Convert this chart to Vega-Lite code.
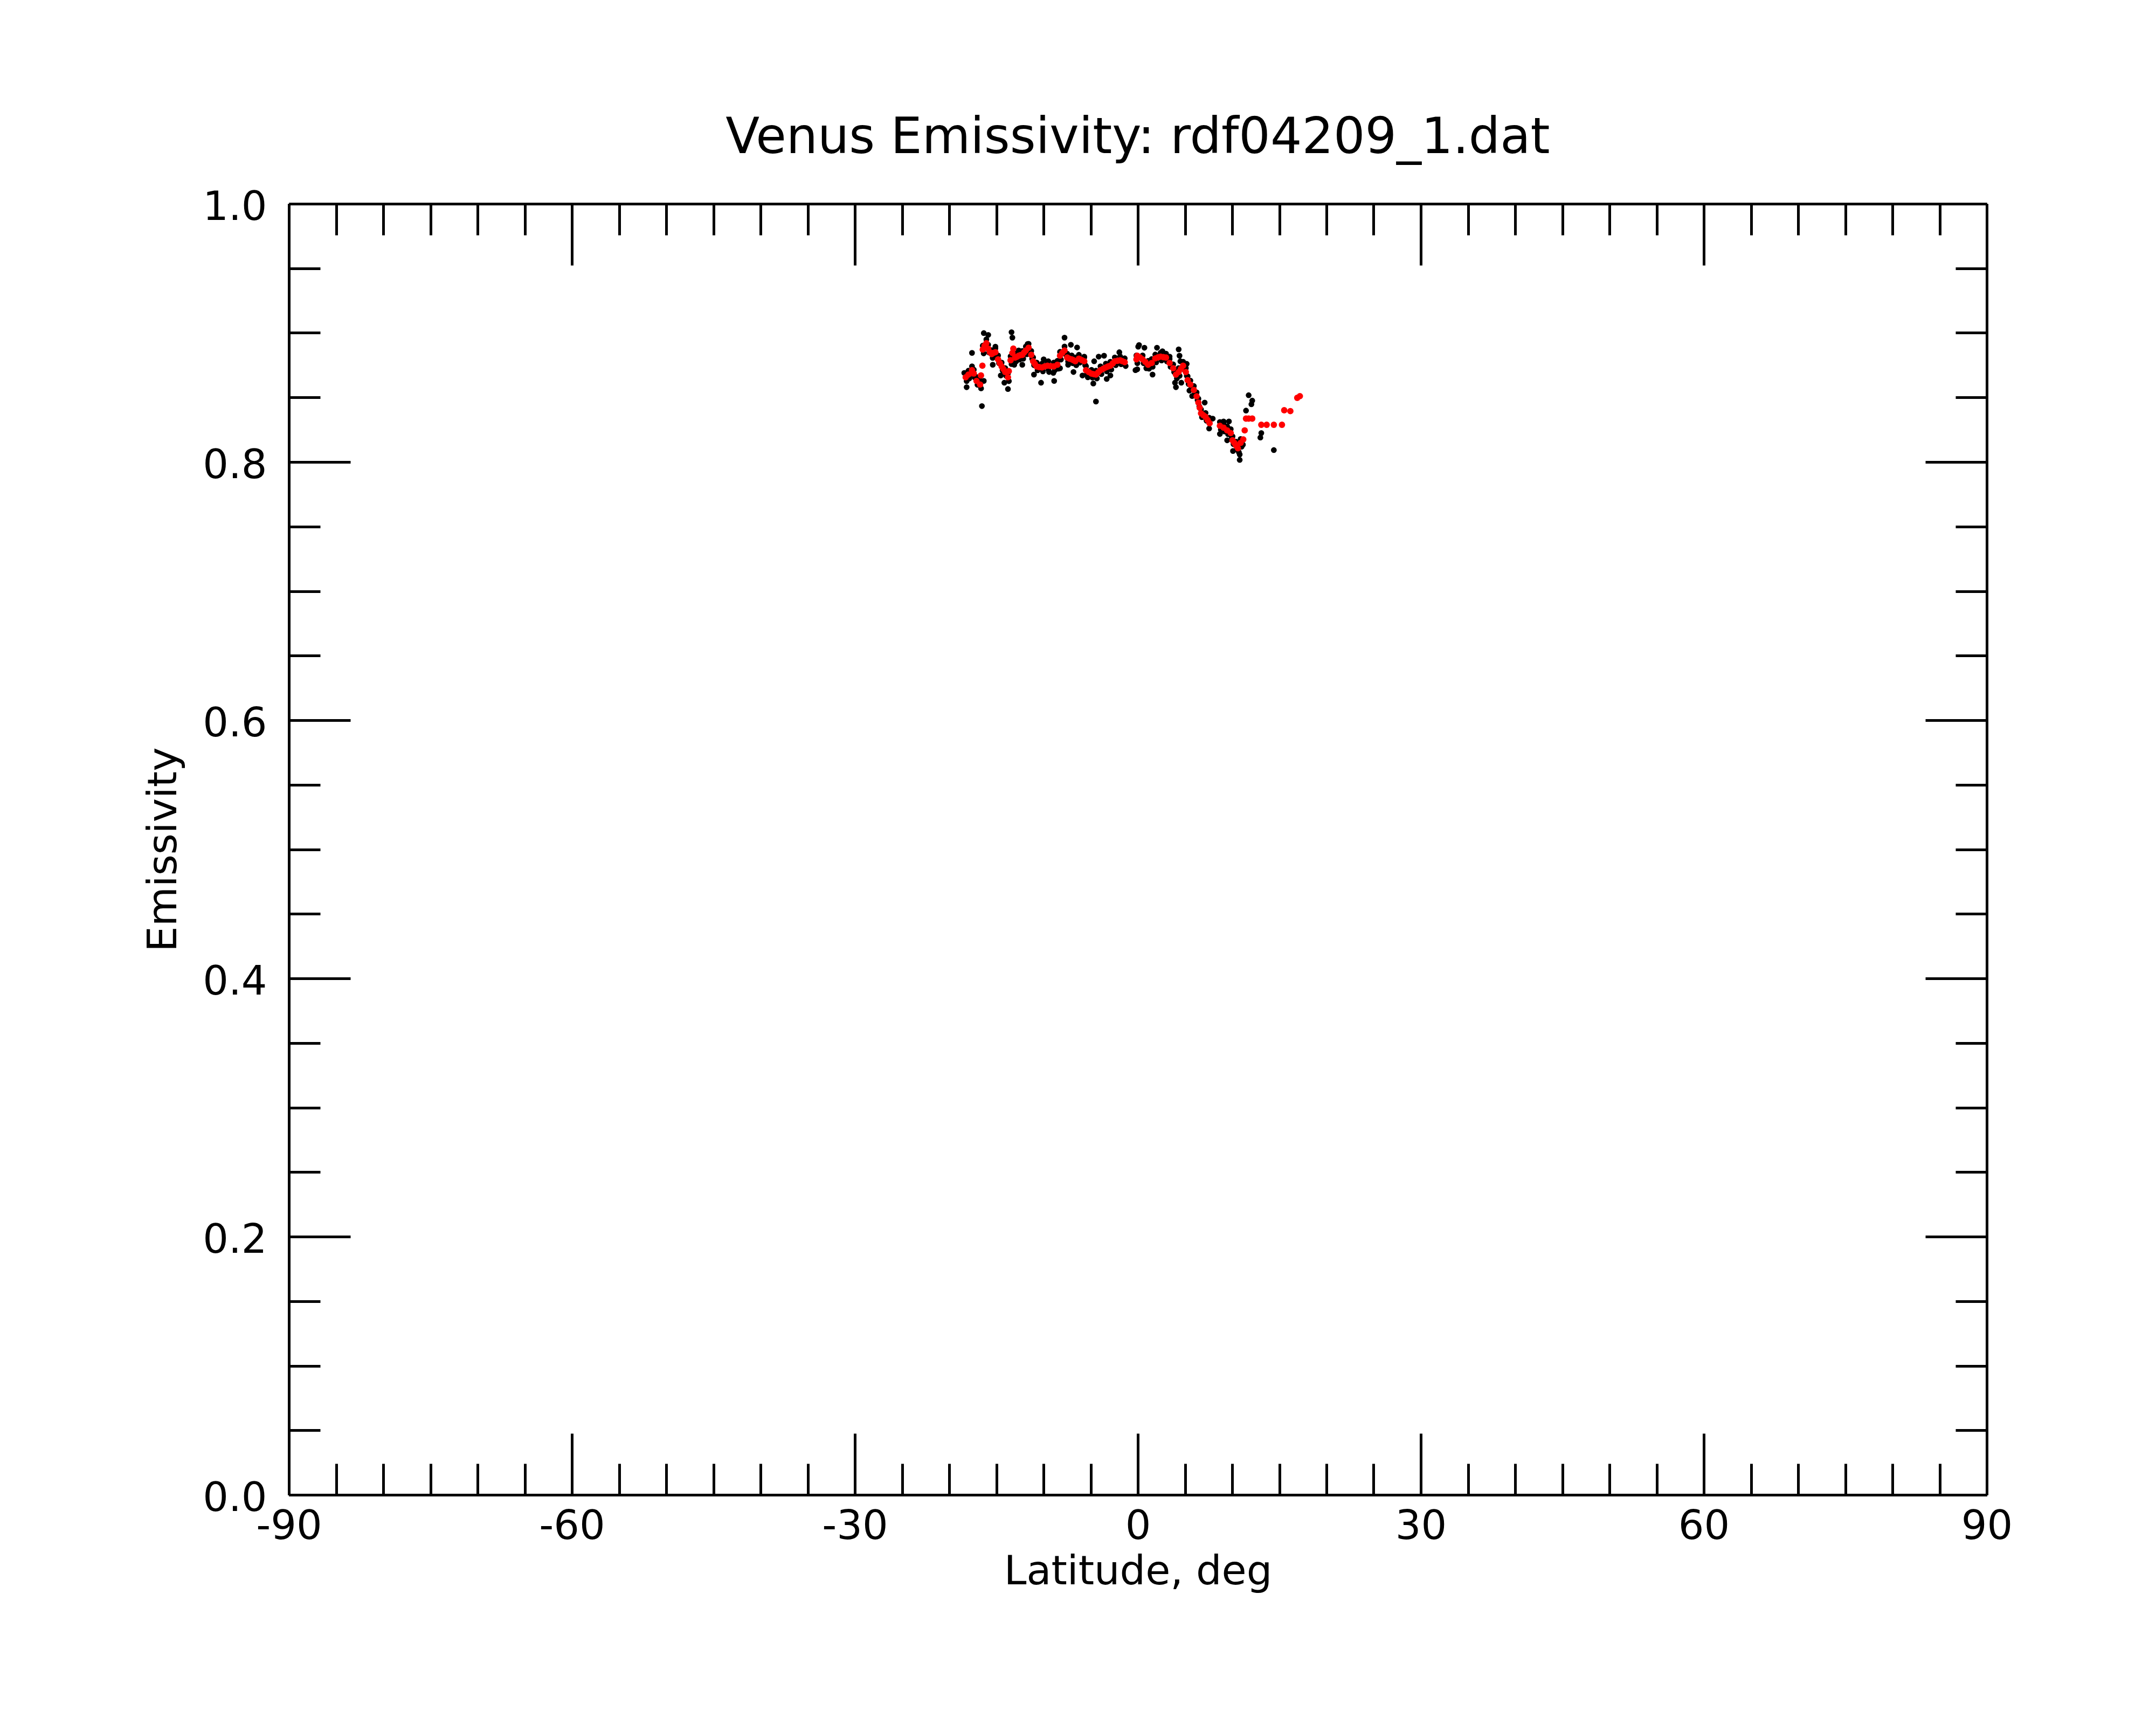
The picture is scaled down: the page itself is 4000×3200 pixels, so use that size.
{
  "$schema": "https://vega.github.io/schema/vega-lite/v6.json",
  "width": 3150,
  "height": 2395,
  "autosize": {"type": "none"},
  "padding": {"left": 536, "top": 378, "right": 314, "bottom": 427},
  "background": "white",
  "title": {
    "text": "Venus Emissivity: rdf04209_1.dat",
    "font": "DejaVu Sans",
    "fontSize": 92,
    "fontWeight": "normal",
    "color": "black",
    "anchor": "middle",
    "baseline": "alphabetic",
    "offset": -29
  },
  "config": {
    "view": {"stroke": null},
    "axis": {
      "domainColor": "black",
      "domainWidth": 5,
      "tickColor": "black",
      "tickWidth": 5,
      "labelFont": "DejaVu Sans",
      "labelFontSize": 75,
      "labelColor": "black",
      "titleFont": "DejaVu Sans",
      "titleFontSize": 75,
      "titleFontWeight": "normal",
      "titleColor": "black",
      "grid": false
    }
  },
  "datasets": {
    "all": [
      {"lat": -18.25, "emis": 0.8686}, {"lat": -18.15, "emis": 0.8626},
      {"lat": -17.96, "emis": 0.8707}, {"lat": -17.86, "emis": 0.8647},
      {"lat": -17.58, "emis": 0.8741}, {"lat": -17.48, "emis": 0.8681},
      {"lat": -17.39, "emis": 0.8715}, {"lat": -17.29, "emis": 0.8655},
      {"lat": -17.10, "emis": 0.8658}, {"lat": -17.00, "emis": 0.8598},
      {"lat": -16.72, "emis": 0.8630}, {"lat": -16.62, "emis": 0.8570},
      {"lat": -16.44, "emis": 0.8901}, {"lat": -16.34, "emis": 0.8841},
      {"lat": -16.06, "emis": 0.8950}, {"lat": -15.96, "emis": 0.8890},
      {"lat": -15.87, "emis": 0.8908}, {"lat": -15.77, "emis": 0.8848},
      {"lat": -15.49, "emis": 0.8866}, {"lat": -15.39, "emis": 0.8806},
      {"lat": -15.10, "emis": 0.8880}, {"lat": -15.00, "emis": 0.8820},
      {"lat": -14.82, "emis": 0.8825}, {"lat": -14.72, "emis": 0.8765},
      {"lat": -14.44, "emis": 0.8770}, {"lat": -14.34, "emis": 0.8710},
      {"lat": -14.06, "emis": 0.8727}, {"lat": -13.96, "emis": 0.8667},
      {"lat": -13.77, "emis": 0.8686}, {"lat": -13.67, "emis": 0.8626},
      {"lat": -13.49, "emis": 0.8818}, {"lat": -13.39, "emis": 0.8758},
      {"lat": -13.01, "emis": 0.8839}, {"lat": -12.91, "emis": 0.8779},
      {"lat": -12.63, "emis": 0.8853}, {"lat": -12.53, "emis": 0.8793},
      {"lat": -12.25, "emis": 0.8860}, {"lat": -12.15, "emis": 0.8800},
      {"lat": -11.87, "emis": 0.8894}, {"lat": -11.77, "emis": 0.8834},
      {"lat": -11.58, "emis": 0.8915}, {"lat": -11.48, "emis": 0.8855},
      {"lat": -11.30, "emis": 0.8860}, {"lat": -11.20, "emis": 0.8800},
      {"lat": -11.10, "emis": 0.8810}, {"lat": -11.00, "emis": 0.8750},
      {"lat": -10.73, "emis": 0.8770}, {"lat": -10.63, "emis": 0.8710},
      {"lat": -10.16, "emis": 0.8762}, {"lat": -10.06, "emis": 0.8702},
      {"lat": -9.58, "emis": 0.8776}, {"lat": -9.48, "emis": 0.8716},
      {"lat": -8.91, "emis": 0.8770}, {"lat": -8.81, "emis": 0.8710},
      {"lat": -8.53, "emis": 0.8783}, {"lat": -8.43, "emis": 0.8723},
      {"lat": -8.25, "emis": 0.8853}, {"lat": -8.15, "emis": 0.8793},
      {"lat": -7.77, "emis": 0.8894}, {"lat": -7.67, "emis": 0.8834},
      {"lat": -7.49, "emis": 0.8839}, {"lat": -7.39, "emis": 0.8779},
      {"lat": -7.01, "emis": 0.8825}, {"lat": -6.91, "emis": 0.8765},
      {"lat": -6.63, "emis": 0.8810}, {"lat": -6.53, "emis": 0.8750},
      {"lat": -6.25, "emis": 0.8830}, {"lat": -6.15, "emis": 0.8770},
      {"lat": -5.68, "emis": 0.8810}, {"lat": -5.58, "emis": 0.8750},
      {"lat": -5.49, "emis": 0.8741}, {"lat": -5.39, "emis": 0.8681},
      {"lat": -4.91, "emis": 0.8714}, {"lat": -4.81, "emis": 0.8654},
      {"lat": -4.44, "emis": 0.8707}, {"lat": -4.34, "emis": 0.8647},
      {"lat": -3.96, "emis": 0.8741}, {"lat": -3.86, "emis": 0.8681},
      {"lat": -3.39, "emis": 0.8762}, {"lat": -3.29, "emis": 0.8702},
      {"lat": -2.91, "emis": 0.8776}, {"lat": -2.81, "emis": 0.8716},
      {"lat": -2.44, "emis": 0.8810}, {"lat": -2.34, "emis": 0.8750},
      {"lat": -1.87, "emis": 0.8817}, {"lat": -1.77, "emis": 0.8757},
      {"lat": -1.39, "emis": 0.8803}, {"lat": -1.29, "emis": 0.8743},
      {"lat": -0.15, "emis": 0.8825}, {"lat": -0.05, "emis": 0.8765},
      {"lat": 0.51, "emis": 0.8825}, {"lat": 0.61, "emis": 0.8765},
      {"lat": 1.09, "emis": 0.8783}, {"lat": 1.19, "emis": 0.8723},
      {"lat": 1.47, "emis": 0.8797}, {"lat": 1.57, "emis": 0.8737},
      {"lat": 1.85, "emis": 0.8832}, {"lat": 1.95, "emis": 0.8772},
      {"lat": 2.42, "emis": 0.8846}, {"lat": 2.52, "emis": 0.8786},
      {"lat": 2.99, "emis": 0.8839}, {"lat": 3.09, "emis": 0.8779},
      {"lat": 3.37, "emis": 0.8797}, {"lat": 3.47, "emis": 0.8737},
      {"lat": 3.75, "emis": 0.8756}, {"lat": 3.85, "emis": 0.8696},
      {"lat": 4.04, "emis": 0.8707}, {"lat": 4.14, "emis": 0.8647},
      {"lat": 4.33, "emis": 0.8727}, {"lat": 4.43, "emis": 0.8667},
      {"lat": 4.80, "emis": 0.8776}, {"lat": 4.90, "emis": 0.8716},
      {"lat": 5.09, "emis": 0.8727}, {"lat": 5.19, "emis": 0.8667},
      {"lat": 5.28, "emis": 0.8664}, {"lat": 5.38, "emis": 0.8604},
      {"lat": 5.57, "emis": 0.8630}, {"lat": 5.67, "emis": 0.8570},
      {"lat": 5.94, "emis": 0.8588}, {"lat": 6.04, "emis": 0.8528},
      {"lat": 6.23, "emis": 0.8539}, {"lat": 6.33, "emis": 0.8479},
      {"lat": 6.42, "emis": 0.8490}, {"lat": 6.52, "emis": 0.8430},
      {"lat": 6.70, "emis": 0.8407}, {"lat": 6.80, "emis": 0.8347},
      {"lat": 7.18, "emis": 0.8380}, {"lat": 7.28, "emis": 0.8320},
      {"lat": 8.70, "emis": 0.8310}, {"lat": 8.80, "emis": 0.8250},
      {"lat": 9.09, "emis": 0.8296}, {"lat": 9.19, "emis": 0.8236},
      {"lat": 9.47, "emis": 0.8275}, {"lat": 9.57, "emis": 0.8215},
      {"lat": 9.85, "emis": 0.8254}, {"lat": 9.95, "emis": 0.8194},
      {"lat": 10.04, "emis": 0.8198}, {"lat": 10.14, "emis": 0.8138},
      {"lat": 10.42, "emis": 0.8157}, {"lat": 10.52, "emis": 0.8097},
      {"lat": 10.61, "emis": 0.8136}, {"lat": 10.71, "emis": 0.8076},
      {"lat": 10.90, "emis": 0.8178}, {"lat": 11.00, "emis": 0.8118},
      {"lat": -16.33, "emis": 0.8998}, {"lat": -15.86, "emis": 0.8984},
      {"lat": -17.58, "emis": 0.8845}, {"lat": -18.15, "emis": 0.8579},
      {"lat": -16.53, "emis": 0.8433}, {"lat": -15.10, "emis": 0.8893},
      {"lat": -15.38, "emis": 0.8753}, {"lat": -14.53, "emis": 0.8670},
      {"lat": -14.15, "emis": 0.8614}, {"lat": -13.77, "emis": 0.8565},
      {"lat": -13.39, "emis": 0.9005}, {"lat": -13.30, "emis": 0.8963},
      {"lat": -13.10, "emis": 0.8753}, {"lat": -12.63, "emis": 0.8864},
      {"lat": -12.25, "emis": 0.8753}, {"lat": -11.68, "emis": 0.8914},
      {"lat": -11.01, "emis": 0.8677}, {"lat": -10.26, "emis": 0.8614},
      {"lat": -9.98, "emis": 0.8795}, {"lat": -9.41, "emis": 0.8697},
      {"lat": -16.33, "emis": 0.8628}, {"lat": -18.40, "emis": 0.8690},
      {"lat": -7.77, "emis": 0.8963}, {"lat": -7.10, "emis": 0.8908},
      {"lat": -6.44, "emis": 0.8887}, {"lat": -8.87, "emis": 0.8628},
      {"lat": -8.96, "emis": 0.8690}, {"lat": -6.82, "emis": 0.8697},
      {"lat": -5.68, "emis": 0.8816}, {"lat": -4.63, "emis": 0.8780},
      {"lat": -4.72, "emis": 0.8608}, {"lat": -4.44, "emis": 0.8468},
      {"lat": -4.15, "emis": 0.8816}, {"lat": -3.58, "emis": 0.8823},
      {"lat": -3.30, "emis": 0.8643}, {"lat": -2.91, "emis": 0.8670},
      {"lat": -1.96, "emis": 0.8850}, {"lat": -9.49, "emis": 0.8780},
      {"lat": -8.25, "emis": 0.8726}, {"lat": -7.39, "emis": 0.8753},
      {"lat": -5.87, "emis": 0.8670}, {"lat": -5.30, "emis": 0.8656},
      {"lat": -0.25, "emis": 0.8711}, {"lat": 0.04, "emis": 0.8893},
      {"lat": 0.13, "emis": 0.8906}, {"lat": 0.70, "emis": 0.8885},
      {"lat": 2.03, "emis": 0.8885}, {"lat": 2.61, "emis": 0.8858},
      {"lat": 4.33, "emis": 0.8872}, {"lat": 4.42, "emis": 0.8823},
      {"lat": 4.51, "emis": 0.8780}, {"lat": 1.56, "emis": 0.8677},
      {"lat": 0.90, "emis": 0.8726}, {"lat": -0.06, "emis": 0.8718},
      {"lat": 3.94, "emis": 0.8614}, {"lat": 4.04, "emis": 0.8579},
      {"lat": 4.61, "emis": 0.8614}, {"lat": 5.18, "emis": 0.8760},
      {"lat": 5.47, "emis": 0.8553}, {"lat": 5.76, "emis": 0.8511},
      {"lat": 7.09, "emis": 0.8460}, {"lat": 7.56, "emis": 0.8343},
      {"lat": 7.56, "emis": 0.8259}, {"lat": 8.70, "emis": 0.8217},
      {"lat": 3.37, "emis": 0.8816}, {"lat": 11.75, "emis": 0.8517},
      {"lat": 12.13, "emis": 0.8475}, {"lat": 12.04, "emis": 0.8447},
      {"lat": 11.47, "emis": 0.8398}, {"lat": 13.09, "emis": 0.8224},
      {"lat": 12.99, "emis": 0.8189}, {"lat": 14.42, "emis": 0.8092},
      {"lat": 10.80, "emis": 0.8016}, {"lat": 10.80, "emis": 0.8058},
      {"lat": 9.47, "emis": 0.8168}, {"lat": 9.66, "emis": 0.8314},
      {"lat": 9.09, "emis": 0.8314}, {"lat": 10.09, "emis": 0.8085},
      {"lat": 11.14, "emis": 0.8134}, {"lat": 7.94, "emis": 0.8336}
    ],
    "smoothed": [
      {"lat": -18.25, "emis": 0.8656}, {"lat": -17.96, "emis": 0.8677},
      {"lat": -17.58, "emis": 0.8711}, {"lat": -17.39, "emis": 0.8685},
      {"lat": -17.10, "emis": 0.8628}, {"lat": -16.72, "emis": 0.8600},
      {"lat": -16.63, "emis": 0.8670}, {"lat": -16.48, "emis": 0.8746},
      {"lat": -16.44, "emis": 0.8871}, {"lat": -16.25, "emis": 0.8900},
      {"lat": -16.06, "emis": 0.8920}, {"lat": -15.87, "emis": 0.8878},
      {"lat": -15.68, "emis": 0.8850}, {"lat": -15.49, "emis": 0.8836},
      {"lat": -15.30, "emis": 0.8845}, {"lat": -15.10, "emis": 0.8850},
      {"lat": -14.82, "emis": 0.8795}, {"lat": -14.63, "emis": 0.8765},
      {"lat": -14.44, "emis": 0.8740}, {"lat": -14.25, "emis": 0.8720},
      {"lat": -14.06, "emis": 0.8697}, {"lat": -13.77, "emis": 0.8656},
      {"lat": -13.68, "emis": 0.8704}, {"lat": -13.49, "emis": 0.8788},
      {"lat": -13.30, "emis": 0.8844}, {"lat": -13.20, "emis": 0.8878},
      {"lat": -13.01, "emis": 0.8809}, {"lat": -12.82, "emis": 0.8815},
      {"lat": -12.63, "emis": 0.8823}, {"lat": -12.44, "emis": 0.8828},
      {"lat": -12.25, "emis": 0.8830}, {"lat": -12.06, "emis": 0.8848},
      {"lat": -11.87, "emis": 0.8864}, {"lat": -11.58, "emis": 0.8885},
      {"lat": -11.30, "emis": 0.8830}, {"lat": -11.10, "emis": 0.8780},
      {"lat": -10.92, "emis": 0.8760}, {"lat": -10.73, "emis": 0.8740},
      {"lat": -10.45, "emis": 0.8735}, {"lat": -10.16, "emis": 0.8732},
      {"lat": -9.87, "emis": 0.8740}, {"lat": -9.58, "emis": 0.8746},
      {"lat": -9.25, "emis": 0.8743}, {"lat": -8.91, "emis": 0.8740},
      {"lat": -8.53, "emis": 0.8753}, {"lat": -8.25, "emis": 0.8823},
      {"lat": -8.01, "emis": 0.8845}, {"lat": -7.77, "emis": 0.8864},
      {"lat": -7.49, "emis": 0.8809}, {"lat": -7.25, "emis": 0.8800},
      {"lat": -7.01, "emis": 0.8795}, {"lat": -6.82, "emis": 0.8788},
      {"lat": -6.63, "emis": 0.8780}, {"lat": -6.25, "emis": 0.8800},
      {"lat": -5.96, "emis": 0.8790}, {"lat": -5.68, "emis": 0.8780},
      {"lat": -5.49, "emis": 0.8711}, {"lat": -5.20, "emis": 0.8697},
      {"lat": -4.91, "emis": 0.8684}, {"lat": -4.67, "emis": 0.8680},
      {"lat": -4.44, "emis": 0.8677}, {"lat": -4.20, "emis": 0.8694},
      {"lat": -3.96, "emis": 0.8711}, {"lat": -3.67, "emis": 0.8722},
      {"lat": -3.39, "emis": 0.8732}, {"lat": -3.15, "emis": 0.8740},
      {"lat": -2.91, "emis": 0.8746}, {"lat": -2.67, "emis": 0.8763},
      {"lat": -2.44, "emis": 0.8780}, {"lat": -2.15, "emis": 0.8784},
      {"lat": -1.87, "emis": 0.8787}, {"lat": -1.63, "emis": 0.8780},
      {"lat": -1.39, "emis": 0.8773}, {"lat": -0.15, "emis": 0.8795},
      {"lat": -0.06, "emis": 0.8823}, {"lat": 0.22, "emis": 0.8810},
      {"lat": 0.51, "emis": 0.8795}, {"lat": 0.80, "emis": 0.8775},
      {"lat": 1.09, "emis": 0.8753}, {"lat": 1.47, "emis": 0.8767},
      {"lat": 1.85, "emis": 0.8802}, {"lat": 2.13, "emis": 0.8810},
      {"lat": 2.42, "emis": 0.8816}, {"lat": 2.70, "emis": 0.8812},
      {"lat": 2.99, "emis": 0.8809}, {"lat": 3.37, "emis": 0.8767},
      {"lat": 3.75, "emis": 0.8726}, {"lat": 4.04, "emis": 0.8677},
      {"lat": 4.33, "emis": 0.8697}, {"lat": 4.56, "emis": 0.8722},
      {"lat": 4.80, "emis": 0.8746}, {"lat": 5.09, "emis": 0.8697},
      {"lat": 5.28, "emis": 0.8634}, {"lat": 5.57, "emis": 0.8600},
      {"lat": 5.94, "emis": 0.8558}, {"lat": 6.23, "emis": 0.8509},
      {"lat": 6.42, "emis": 0.8460}, {"lat": 6.56, "emis": 0.8420},
      {"lat": 6.70, "emis": 0.8377}, {"lat": 6.94, "emis": 0.8363},
      {"lat": 7.18, "emis": 0.8350}, {"lat": 7.40, "emis": 0.8325},
      {"lat": 7.61, "emis": 0.8300}, {"lat": 8.70, "emis": 0.8280},
      {"lat": 9.09, "emis": 0.8266}, {"lat": 9.47, "emis": 0.8245},
      {"lat": 9.85, "emis": 0.8224}, {"lat": 10.04, "emis": 0.8168},
      {"lat": 10.23, "emis": 0.8148}, {"lat": 10.42, "emis": 0.8127},
      {"lat": 10.61, "emis": 0.8106}, {"lat": 10.90, "emis": 0.8148},
      {"lat": 11.18, "emis": 0.8175}, {"lat": 11.33, "emis": 0.8245},
      {"lat": 11.47, "emis": 0.8336}, {"lat": 11.75, "emis": 0.8336},
      {"lat": 12.13, "emis": 0.8336}, {"lat": 13.09, "emis": 0.8288},
      {"lat": 13.66, "emis": 0.8288}, {"lat": 14.42, "emis": 0.8288},
      {"lat": 15.28, "emis": 0.8288}, {"lat": 15.52, "emis": 0.8401},
      {"lat": 16.17, "emis": 0.8394}, {"lat": 16.90, "emis": 0.8497},
      {"lat": 17.18, "emis": 0.8510}
    ]
  },
  "resolve": {"axis": {"x": "independent", "y": "independent"}},
  "layer": [
    {
      "data": {"name": "all"},
      "mark": {"type": "circle", "color": "black", "size": 115, "opacity": 1},
      "encoding": {
        "x": {
          "field": "lat",
          "type": "quantitative",
          "scale": {"domain": [-90, 90], "nice": false, "zero": false},
          "axis": {
            "orient": "bottom",
            "values": [-90, -60, -30, 0, 30, 60, 90],
            "labelExpr": "toString(datum.value)",
            "ticks": false,
            "tickSize": 0,
            "labelPadding": 22,
            "labelFlush": false,
            "labelOverlap": false,
            "title": "Latitude, deg",
            "titleY": 165,
            "titleBaseline": "alphabetic"
          }
        },
        "y": {
          "field": "emis",
          "type": "quantitative",
          "scale": {"domain": [0, 1], "nice": false, "zero": false},
          "axis": {
            "orient": "left",
            "values": [0, 0.2, 0.4, 0.6, 0.8, 1],
            "format": ".1f",
            "ticks": false,
            "tickSize": 0,
            "labelPadding": 41,
            "labelOffset": 6,
            "labelFlush": false,
            "labelOverlap": false,
            "title": "Emissivity",
            "titleX": -210,
            "titleBaseline": "alphabetic"
          }
        }
      }
    },
    {
      "data": {"name": "smoothed"},
      "mark": {"type": "circle", "color": "#ff0000", "size": 140, "opacity": 1},
      "encoding": {
        "x": {
          "field": "lat",
          "type": "quantitative",
          "axis": {
            "orient": "bottom",
            "values": [-90, -85, -80, -75, -70, -65, -60, -55, -50, -45, -40, -35, -30, -25, -20, -15, -10, -5, 0, 5, 10, 15, 20, 25, 30, 35, 40, 45, 50, 55, 60, 65, 70, 75, 80, 85, 90],
            "labels": false,
            "title": null,
            "tickSize": {"condition": {"test": "datum.value % 30 === 0", "value": -114}, "value": -58}
          }
        },
        "y": {
          "field": "emis",
          "type": "quantitative",
          "axis": {
            "orient": "left",
            "values": [0, 0.05, 0.1, 0.15, 0.2, 0.25, 0.3, 0.35, 0.4, 0.45, 0.5, 0.55, 0.6, 0.65, 0.7, 0.75, 0.8, 0.85, 0.9, 0.95, 1],
            "labels": false,
            "title": null,
            "tickSize": {"condition": {"test": "abs(datum.value * 5 - round(datum.value * 5)) < 0.001", "value": -114}, "value": -58}
          }
        }
      }
    },
    {
      "data": {"name": "smoothed"},
      "mark": {"type": "circle", "opacity": 0},
      "encoding": {
        "x": {
          "field": "lat",
          "type": "quantitative",
          "axis": {
            "orient": "top",
            "values": [-90, -85, -80, -75, -70, -65, -60, -55, -50, -45, -40, -35, -30, -25, -20, -15, -10, -5, 0, 5, 10, 15, 20, 25, 30, 35, 40, 45, 50, 55, 60, 65, 70, 75, 80, 85, 90],
            "labels": false,
            "title": null,
            "tickSize": {"condition": {"test": "datum.value % 30 === 0", "value": -114}, "value": -58}
          }
        },
        "y": {
          "field": "emis",
          "type": "quantitative",
          "axis": {
            "orient": "right",
            "values": [0, 0.05, 0.1, 0.15, 0.2, 0.25, 0.3, 0.35, 0.4, 0.45, 0.5, 0.55, 0.6, 0.65, 0.7, 0.75, 0.8, 0.85, 0.9, 0.95, 1],
            "labels": false,
            "title": null,
            "tickSize": {"condition": {"test": "abs(datum.value * 5 - round(datum.value * 5)) < 0.001", "value": -114}, "value": -58}
          }
        }
      }
    }
  ]
}
